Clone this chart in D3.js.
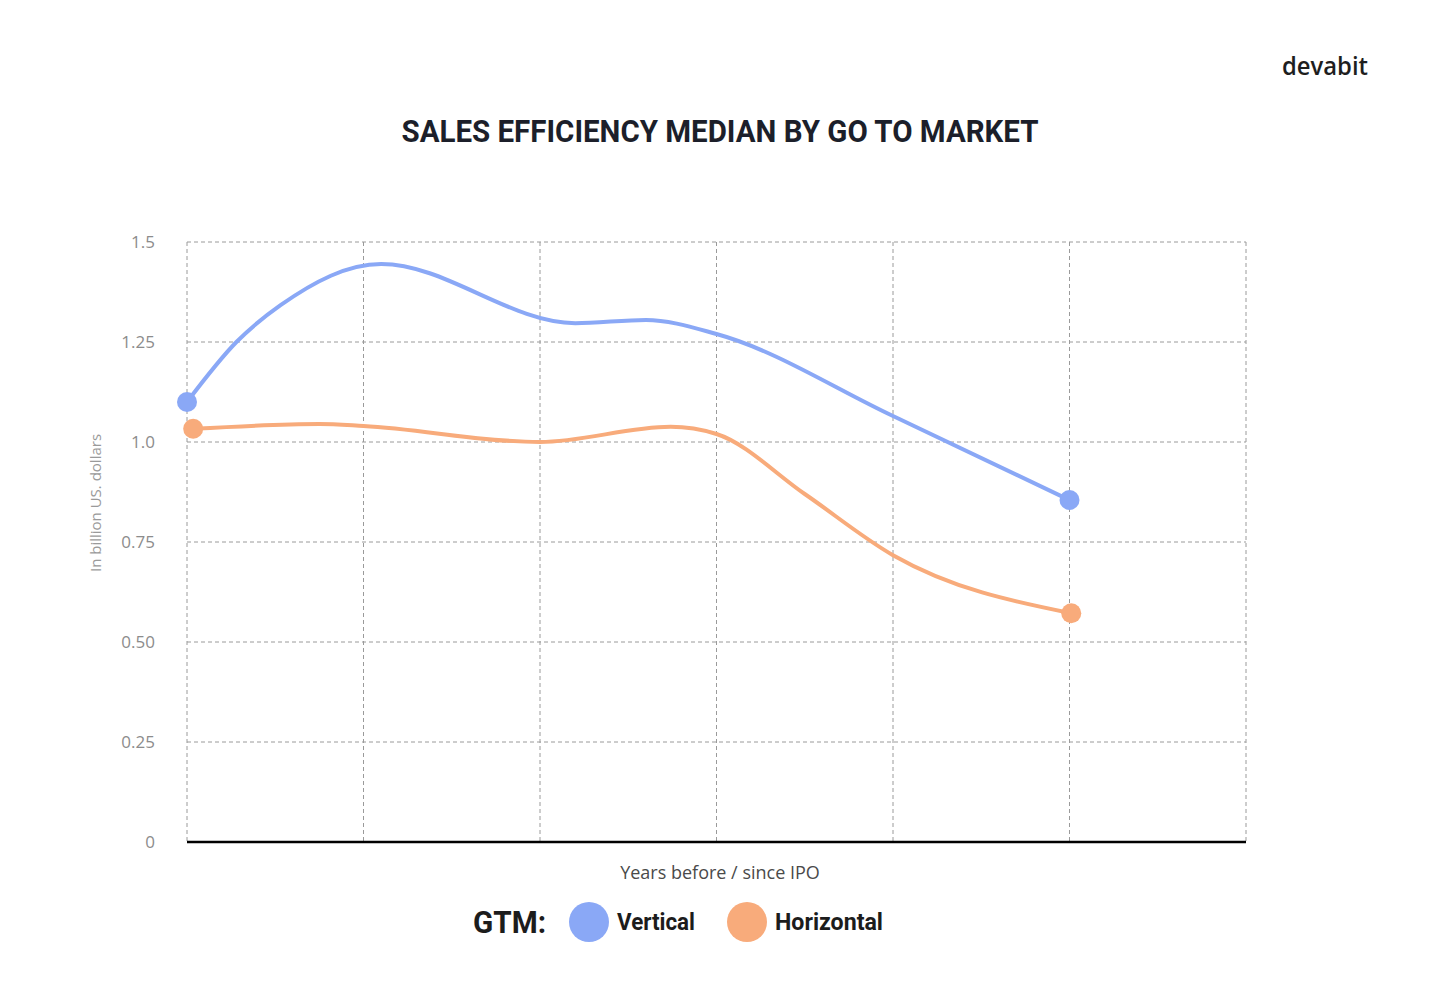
<!DOCTYPE html>
<html><head><meta charset="utf-8">
<script src="https://cdn.jsdelivr.net/npm/d3@7"></script>
<style>body{margin:0;background:#fff}svg{display:block}</style>
</head><body>
<svg id="c" width="1440" height="1003"></svg>
<script>
const yTicks = [0, 0.25, 0.5, 0.75, 1.0, 1.25, 1.5];
const yTickLabels = ["0", "0.25", "0.50", "0.75", "1.0", "1.25", "1.5"];
const xGrid = [0, 1, 2, 3, 4, 5, 6];
const verticalX = [0, 0.28, 0.53, 1.1, 2.2, 2.6, 3, 4, 5];
const verticalY = [1.10, 1.25, 1.342, 1.445, 1.297, 1.305, 1.27, 1.065, 0.855];
const horizontalX = [0.035, 0.75, 1, 2, 2.74, 3, 3.5, 4, 5.01];
const horizontalY = [1.033, 1.045, 1.04, 1.0, 1.038, 1.02, 0.87, 0.717, 0.572];
const seriesNames = ["Vertical", "Horizontal"];
const colors = ["#8aa8f6", "#f8ab7b"];

const svg = d3.select("#c");
const L = 187, R = 1246, T = 242, B = 842;
const x = d3.scaleLinear().domain([0, 6]).range([L, R]);
const y = d3.scaleLinear().domain([0, 1.5]).range([B, T]);

// grid
svg.append("g").selectAll("line").data(yTicks.filter(d => d > 0)).join("line")
  .attr("x1", L).attr("x2", R).attr("y1", d => y(d)).attr("y2", d => y(d))
  .attr("stroke", "#9a9a9a").attr("stroke-dasharray", "4,3").attr("stroke-width", 1);
svg.append("g").selectAll("line").data(xGrid).join("line")
  .attr("x1", d => x(d)).attr("x2", d => x(d)).attr("y1", T).attr("y2", B)
  .attr("stroke", "#9a9a9a").attr("stroke-dasharray", "4,3").attr("stroke-width", 1);

// y axis labels
const ya = svg.append("g").attr("transform", `translate(${L - 29},0)`)
  .call(d3.axisLeft(y).tickValues(yTicks).tickSize(0).tickFormat((d, i) => yTickLabels[i]));
ya.select(".domain").remove();
ya.selectAll("text").attr("font-family", "Open Sans").attr("font-size", 17).attr("fill", "#8c8c8c");

// baseline
svg.append("line").attr("x1", L).attr("x2", R).attr("y1", B).attr("y2", B)
  .attr("stroke", "#000").attr("stroke-width", 2.5);

// lines
const series = [
  verticalX.map((d, i) => [d, verticalY[i]]),
  horizontalX.map((d, i) => [d, horizontalY[i]])
];
const line = d3.line().x(d => x(d[0])).y(d => y(d[1])).curve(d3.curveMonotoneX);
series.forEach((s, i) => {
  svg.append("path").attr("d", line(s)).attr("fill", "none")
    .attr("stroke", colors[i]).attr("stroke-width", 4).attr("stroke-linecap", "round");
  [s[0], s[s.length - 1]].forEach(p => {
    svg.append("circle").attr("cx", x(p[0])).attr("cy", y(p[1])).attr("r", 10).attr("fill", colors[i]);
  });
});

// texts
svg.append("text").attr("x", 720).attr("y", 142).attr("text-anchor", "middle")
  .attr("font-family", "Roboto").attr("font-weight", 700).attr("font-size", 32)
  .attr("fill", "#1c1f2a").attr("textLength", 637).attr("lengthAdjust", "spacingAndGlyphs")
  .text("SALES EFFICIENCY MEDIAN BY GO TO MARKET");
svg.append("text").attr("x", 1368).attr("y", 75).attr("text-anchor", "end")
  .attr("font-family", "Open Sans").attr("font-weight", 600).attr("font-size", 26)
  .attr("fill", "#1e1e1e").attr("textLength", 86).attr("lengthAdjust", "spacingAndGlyphs").text("devabit");
svg.append("text").attr("transform", "translate(101,503) rotate(-90)").attr("text-anchor", "middle")
  .attr("font-family", "Open Sans").attr("font-size", 15).attr("fill", "#9a9a9a")
  .text("In billion US. dollars");
svg.append("text").attr("x", 720).attr("y", 879).attr("text-anchor", "middle")
  .attr("font-family", "Open Sans").attr("font-size", 18).attr("fill", "#4a4a4a")
  .text("Years before / since IPO");

// legend
svg.append("text").attr("x", 473).attr("y", 933)
  .attr("font-family", "Roboto").attr("font-weight", 700).attr("font-size", 31)
  .attr("fill", "#1c1c1c").attr("textLength", 73).attr("lengthAdjust", "spacingAndGlyphs").text("GTM:");
const legX = [589, 747];
const legTextW = [78, 108];
seriesNames.forEach((n, i) => {
  svg.append("circle").attr("cx", legX[i]).attr("cy", 922).attr("r", 20).attr("fill", colors[i]);
  svg.append("text").attr("x", legX[i] + 28).attr("y", 930)
    .attr("font-family", "Roboto").attr("font-weight", 700).attr("font-size", 23)
    .attr("fill", "#1c1c1c").attr("textLength", legTextW[i]).attr("lengthAdjust", "spacingAndGlyphs").text(n);
});
</script>
</body></html>
